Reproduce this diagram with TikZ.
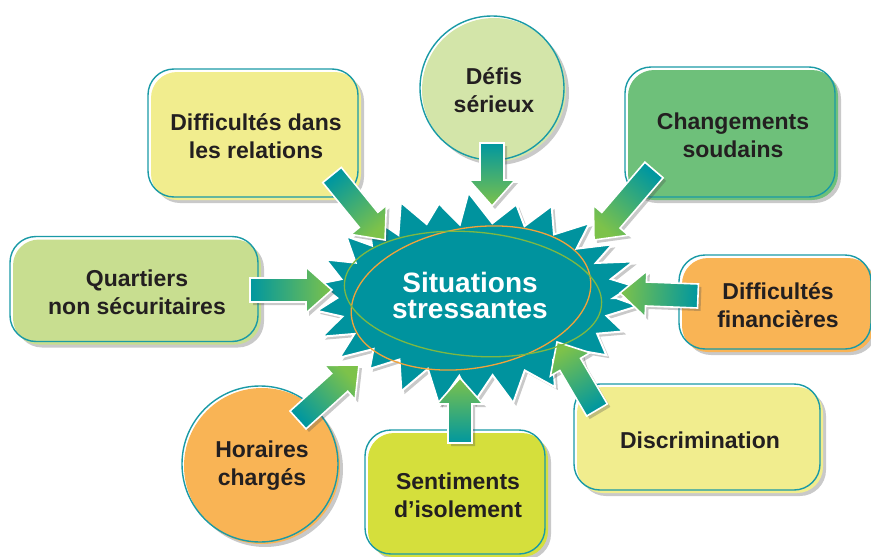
\documentclass[tikz,border=0pt]{standalone}
\usepackage{fontspec}
\setmainfont{Liberation Sans}
\usetikzlibrary{calc,shadows}

\definecolor{burstteal}{HTML}{00939E}
\definecolor{boxline}{HTML}{1A9AA6}
\definecolor{arrteal}{HTML}{00979F}
\definecolor{arrgreen}{HTML}{7DC24A}
\definecolor{textdark}{HTML}{231F20}
\definecolor{paleyellow}{HTML}{F1ED8E}
\definecolor{palegreen}{HTML}{D3E5A9}
\definecolor{midgreen}{HTML}{6EC07A}
\definecolor{leafgreen}{HTML}{C8DE90}
\definecolor{softorange}{HTML}{F9B455}
\definecolor{limegreen}{HTML}{D5DF3C}
\definecolor{ringorange}{HTML}{F2A33A}
\definecolor{ringgreen}{HTML}{7DB843}

\newcommand{\boxfont}{\bfseries\fontsize{23}{28}\selectfont}
\newcommand{\sitfont}{\bfseries\fontsize{28}{26}\selectfont}

% block arrow from tail (#1) to head (#2)
\newcommand{\blockarrow}[2]{%
  \pgfmathanglebetweenpoints{\pgfpointanchor{#1}{center}}{\pgfpointanchor{#2}{center}}%
  \pgfmathsetmacro{\shadeang}{\pgfmathresult+90}%
  \path coordinate (neck) at ($(#2)!26pt!(#1)$);
  \shadedraw[arrowbody, shading angle=\shadeang]
    ($(#1)!12pt!90:(#2)$) -- ($(neck)!12pt!90:(#2)$) -- ($(neck)!23pt!90:(#2)$) -- (#2)
    -- ($(neck)!23pt!-90:(#2)$) -- ($(neck)!12pt!-90:(#2)$) -- ($(#1)!12pt!-90:(#2)$) -- cycle;
}

\begin{document}
\begin{tikzpicture}[x=1pt,y=-1pt,
  softshadow/.style={drop shadow={shadow xshift=3pt, shadow yshift=-3pt, opacity=0.3, fill=black!70}},
  box/.style={rectangle, rounded corners=26pt, fill=#1, softshadow,
    postaction={draw=boxline, line width=1.4pt, transform canvas={shift={(-3pt,3pt)}}},
    text=textdark, font=\boxfont, align=center, inner sep=0pt},
  disc/.style={circle, fill=#1, softshadow,
    postaction={draw=boxline, line width=1.4pt, transform canvas={shift={(-2pt,2pt)}}},
    text=textdark, font=\boxfont, align=center, inner sep=0pt},
  arrowbody/.style={top color=arrteal, bottom color=arrgreen, draw=white, line width=1.6pt,
    line join=miter, softshadow},
  burst/.style={fill=burstteal, draw=white, line width=2pt, line join=miter, softshadow}]
  \useasboundingbox (0,0) rectangle (871,557);

  % the boxes round the burst
  \node[box=paleyellow, minimum width=210pt, minimum height=128pt] (relations) at (256,136) {Difficultés dans\\les relations};
  \node[disc=palegreen, minimum size=144pt] (defis) at (494,90) {Défis\\sérieux};
  \node[box=midgreen, minimum width=210pt, minimum height=130pt] (changements) at (733,135) {Changements\\soudains};
  \node[box=leafgreen, minimum width=248pt, minimum height=105pt] (quartiers) at (137,292) {Quartiers\\non sécuritaires};
  \node[box=softorange, minimum width=192pt, minimum height=94pt] (finances) at (778,305) {Difficultés\\financières};
  \node[box=paleyellow, minimum width=246pt, minimum height=106pt] (discrimination) at (700,440) {Discrimination};
  \node[box=limegreen, minimum width=180pt, minimum height=124pt] (isolement) at (458,495) {Sentiments\\d’isolement};
  \node[disc=softorange, minimum size=156pt] (horaires) at (262,466) {Horaires\\chargés};

  % the burst
  \pgfmathsetseed{5}
  \begin{scope}[shift={(476,298)}]
    \draw[burst] (0:140 and 80)
      \foreach \k [evaluate=\k as \L using 16+14*rnd,
                   evaluate=\k as \m using 6*rnd,
                   evaluate=\k as \j using 0.5+0.2*rand] in {0,...,25}{
        -- ({(\k+\j)*360/26}:{140+\L} and {80+\L})
        -- ({(\k+1)*360/26}:{140-\m} and {80-\m})
      } -- cycle;
  \end{scope}

  % arrows
  \coordinate (relations-t) at (332,175);   \coordinate (relations-h) at (385,240);
  \coordinate (defis-t) at (492,143);       \coordinate (defis-h) at (492,206);
  \coordinate (changements-t) at (654,170); \coordinate (changements-h) at (594,240);
  \coordinate (quartiers-t) at (250,290);   \coordinate (quartiers-h) at (332,290);
  \coordinate (finances-t) at (698,296);    \coordinate (finances-h) at (620,293);
  \coordinate (discrimination-t) at (597,410); \coordinate (discrimination-h) at (557,342);
  \coordinate (isolement-t) at (460,443);   \coordinate (isolement-h) at (460,378);
  \coordinate (horaires-t) at (298,420);    \coordinate (horaires-h) at (359,365);
  \foreach \n in {relations,defis,changements,quartiers,finances,discrimination,isolement,horaires}
    {\blockarrow{\n-t}{\n-h}}

  % the two rings and the centre text
  \draw[ringorange, line width=1.3pt] (471,298) ellipse[x radius=121, y radius=70, rotate=10];
  \draw[ringgreen, line width=1.3pt] (473,294) ellipse[x radius=129, y radius=62, rotate=-5];
  \node[text=white, font=\sitfont, align=center] (sit) at (470,295) {Situations\\stressantes};
\end{tikzpicture}
\end{document}
